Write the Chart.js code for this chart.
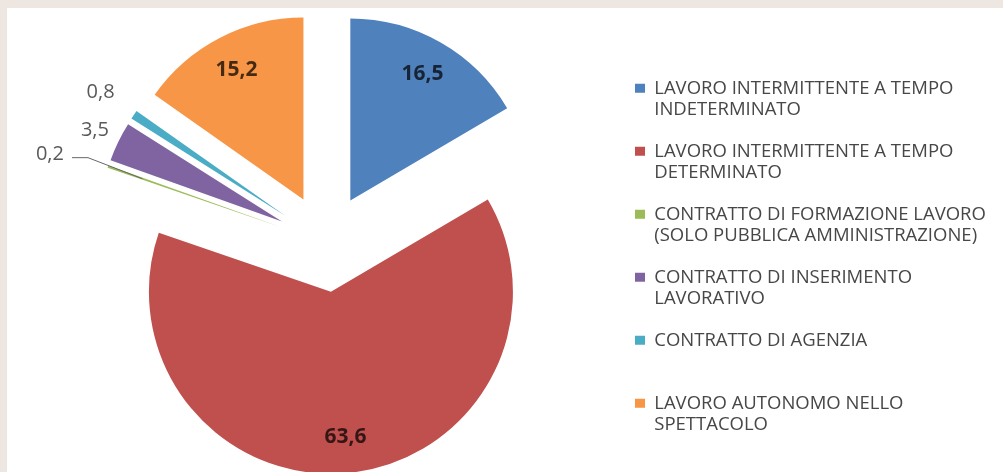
<!DOCTYPE html>
<html>
<head>
<meta charset="utf-8">
<script src="https://cdn.jsdelivr.net/npm/chart.js@4.4.0/dist/chart.umd.min.js"></script>
<style>
  html, body { margin: 0; padding: 0; }
  body { width: 1003px; height: 472px; background: #eee7e1; position: relative; overflow: hidden; }
  #panel { position: absolute; left: 7px; top: 8px; right: 0; bottom: 0; background: #fff; }
  #chart { position: absolute; left: 0; top: 0; }
</style>
</head>
<body>
<div id="panel"></div>
<canvas id="chart" width="1003" height="472"></canvas>
<script>
// legend categories, already split on the lines they wrap to
const categories = [
  ['LAVORO INTERMITTENTE A TEMPO', 'INDETERMINATO'],
  ['LAVORO INTERMITTENTE A TEMPO', 'DETERMINATO'],
  ['CONTRATTO DI FORMAZIONE LAVORO', '(SOLO PUBBLICA AMMINISTRAZIONE)'],
  ['CONTRATTO DI INSERIMENTO', 'LAVORATIVO'],
  ['CONTRATTO DI AGENZIA'],
  ['LAVORO AUTONOMO NELLO', 'SPETTACOLO']
];
const values = [16.5, 63.6, 0.2, 3.5, 0.8, 15.2];
const colors = ['#4F81BD', '#C0504D', '#9BBB59', '#8064A2', '#4BACC6', '#F79646'];

const EXPLODE = 49;        // how far every slice is pulled out
const LEGEND_PAD = 21;
const LEGEND_LEFT = 614;
const legendFont = { family: 'Open Sans', size: 18.5, lineHeight: 21 / 18.5 };
const outsideGap = [0, 0, 0, 26, 40, 0]; // distance past the rim for small labels

function fmt(v) {
  return v.toFixed(1).replace('.', ',');
}

// work out the right padding so the legend starts where it should
// (chart.js adds 10px to a vertical legend's width)
const mctx = document.createElement('canvas').getContext('2d');
mctx.font = legendFont.size + 'px "' + legendFont.family + '"';
let longest = '';
categories.forEach(lines => lines.forEach(l => { if (l.length > longest.length) longest = l; }));
const legendWidth = LEGEND_PAD + 10 + legendFont.size / 2 + mctx.measureText(longest).width + 10;
const padRight = Math.max(0, 1003 - LEGEND_LEFT - legendWidth);

// move each arc out along its middle angle
const explodePlugin = {
  id: 'explode',
  afterDatasetUpdate(chart, args) {
    args.meta.data.forEach(arc => {
      const mid = (arc.startAngle + arc.endAngle) / 2;
      arc.x += Math.cos(mid) * EXPLODE;
      arc.y += Math.sin(mid) * EXPLODE;
    });
  }
};

// value labels: inside for big slices, outside for the thin ones
const labelPlugin = {
  id: 'sliceLabels',
  afterDatasetsDraw(chart) {
    const ctx = chart.ctx;
    const arcs = chart.getDatasetMeta(0).data;
    ctx.save();
    ctx.textAlign = 'center';
    ctx.textBaseline = 'middle';
    arcs.forEach((arc, i) => {
      const mid = (arc.startAngle + arc.endAngle) / 2;
      const r = arc.outerRadius;
      const c = Math.cos(mid), s = Math.sin(mid);
      const text = fmt(values[i]);
      if (values[i] >= 10) {
        ctx.font = 'bold 21px "Open Sans"';
        ctx.fillStyle = 'rgba(0,0,0,0.72)';
        ctx.fillText(text, arc.x + c * r * 0.8, arc.y + s * r * 0.8);
      } else if (values[i] < 0.5) {
        // leader line label
        const ox = arc.x + c * r, oy = arc.y + s * r;
        const ex = ox - 20, ey = oy - 9;
        ctx.strokeStyle = '#666';
        ctx.lineWidth = 1;
        ctx.beginPath();
        ctx.moveTo(ex - 16, ey);
        ctx.lineTo(ex, ey);
        ctx.lineTo(arc.x + c * r * 0.8, arc.y + s * r * 0.8);
        ctx.stroke();
        ctx.font = '20px "Open Sans"';
        ctx.fillStyle = '#595959';
        ctx.textAlign = 'right';
        ctx.fillText(text, ex - 24, ey - 3);
        ctx.textAlign = 'center';
      } else {
        const d = r + outsideGap[i];
        ctx.font = '20px "Open Sans"';
        ctx.fillStyle = '#595959';
        ctx.fillText(text, arc.x + c * d, arc.y + s * d);
      }
    });
    ctx.restore();
  }
};

new Chart(document.getElementById('chart'), {
  type: 'pie',
  data: {
    labels: categories,
    datasets: [{
      data: values,
      backgroundColor: colors,
      borderWidth: 0,
      clip: false
    }]
  },
  options: {
    responsive: false,
    animation: false,
    radius: 182,
    layout: { padding: { left: 38, top: 29, bottom: 15, right: padRight } },
    plugins: {
      tooltip: { enabled: false },
      legend: {
        position: 'right',
        align: 'end',
        labels: {
          boxWidth: 10,
          boxHeight: 9,
          padding: LEGEND_PAD,
          color: '#474747',
          font: legendFont,
          generateLabels(chart) {
            const items = Chart.overrides.pie.plugins.legend.labels.generateLabels(chart);
            items.forEach(item => {
              const lines = item.text.slice();
              while (lines.length < 2) lines.push('');
              item.text = lines;
            });
            return items;
          }
        }
      }
    }
  },
  plugins: [explodePlugin, labelPlugin]
});
</script>
</body>
</html>
